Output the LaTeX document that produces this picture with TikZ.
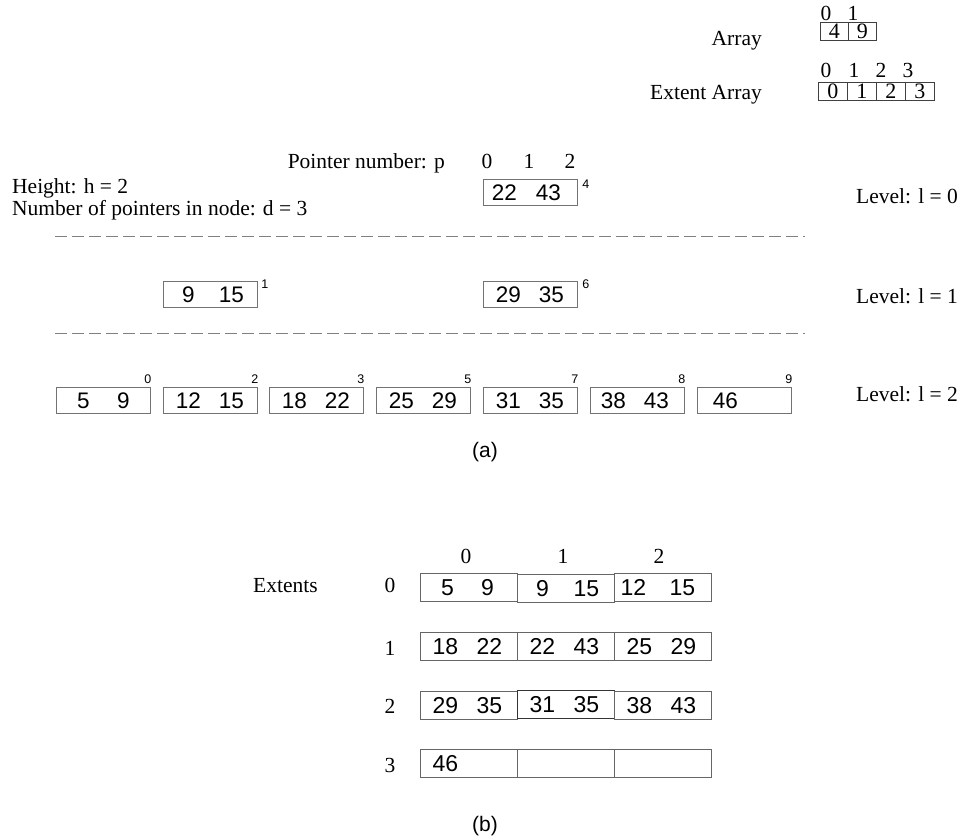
\documentclass[tikz,border=0pt]{standalone}
\usepackage{fontspec}
\setmainfont{Liberation Serif}
\newfontfamily\hv{Liberation Sans}
\usetikzlibrary{calc}
\newcommand\tn[2]{\hbox to 94pt{\hskip25pt\makebox[0pt]{#1}\hskip43pt\makebox[0pt]{#2}\hss}}
\newcommand\tnb[2]{\hbox to 97pt{\hskip25pt\makebox[0pt]{#1}\hskip44pt\makebox[0pt]{#2}\hss}}
\begin{document}
\begin{tikzpicture}[x=1pt,y=-1pt,
  serif/.style={font=\fontsize{21.5}{26}\selectfont, inner sep=0pt},
  sans/.style={font=\hv\fontsize{21}{25}\selectfont, inner sep=0pt},
  sup/.style={font=\hv\fontsize{12.5}{14}\selectfont, inner sep=0pt},
  nbox/.style={draw=black!55, line width=0.9pt, minimum width=94pt, minimum height=26pt,
    inner sep=0pt, anchor=north west, font=\hv\fontsize{22.5}{26}\selectfont},
  cellb/.style={draw=black!60, line width=0.9pt, minimum width=97pt, minimum height=28pt,
    inner sep=0pt, anchor=north west, font=\hv\fontsize{23}{27}\selectfont},
  acell/.style={draw=black!75, line width=0.8pt, minimum height=18pt,
    inner sep=0pt, anchor=north west, font=\fontsize{22}{26}\selectfont},
  dline/.style={draw=black!50, line width=0.9pt, dash pattern=on 12pt off 5pt},
]
\useasboundingbox (0,0) rectangle (965,839);

% ---------- top right arrays ----------
\node[serif, anchor=base east] (arrlab) at (762,45) {Array};
\node[serif, anchor=base] (ah0) at (826,20) {0};
\node[serif, anchor=base] (ah1) at (853,20) {1};
\node[acell, minimum width=28pt] (ac0) at (820,22) {4};
\node[acell, minimum width=28pt] (ac1) at (848,22) {9};

\node[serif, anchor=base east] (extlab) at (762,99) {Extent Array};
\node[serif, anchor=base] (eh0) at (826,77) {0};
\node[serif, anchor=base] (eh1) at (854,77) {1};
\node[serif, anchor=base] (eh2) at (881,77) {2};
\node[serif, anchor=base] (eh3) at (908,77) {3};
\node[acell, minimum width=29pt] (ec0) at (818,82) {0};
\node[acell, minimum width=29pt] (ec1) at (847,82) {1};
\node[acell, minimum width=29pt] (ec2) at (876,82) {2};
\node[acell, minimum width=29pt] (ec3) at (905,82) {3};

% ---------- (a) ----------
\node[serif, anchor=base east] (pnum) at (445,168) {Pointer number: p};
\node[serif, anchor=base] (p0) at (487,168) {0};
\node[serif, anchor=base] (p1) at (529,168) {1};
\node[serif, anchor=base] (p2) at (570,168) {2};
\node[serif, anchor=base west] (hgt) at (12,193) {Height: h = 2};
\node[serif, anchor=base west] (npt) at (12,215.5) {Number of pointers in node: d = 3};

\node[serif, anchor=base west] (lv0) at (856,203.5) {Level: l = 0};
\node[serif, anchor=base west] (lv1) at (856,303) {Level: l = 1};
\node[serif, anchor=base west] (lv2) at (856,401.5) {Level: l = 2};

% level 0
\node[nbox] (n4) at (483,179) {\hbox to 94pt{\hskip21pt\makebox[0pt]{22}\hskip44pt\makebox[0pt]{43}\hss}};
\node[sup] (s4) at ($(n4.north east)+(8,5)$) {4};

\coordinate (d0a) at (55,236);
\coordinate (d0b) at (805,236);
\draw[dline] (d0a) -- (d0b);

% level 1
\node[nbox] (n1) at (163,281) {\tn{9}{15}};
\node[sup] (s1) at ($(n1.north east)+(7,3)$) {1};
\node[nbox] (n6) at (483,281) {\tn{29}{35}};
\node[sup] (s6) at ($(n6.north east)+(8,3)$) {6};

\coordinate (d1a) at (55,333);
\coordinate (d1b) at (805,333);
\draw[dline] (d1a) -- (d1b);

% level 2
\node[nbox] (n0) at (56,387) {\hbox to 94pt{\hskip27pt\makebox[0pt]{5}\hskip40pt\makebox[0pt]{9}\hss}};
\node[nbox] (n2) at (163,387) {\tn{12}{15}};
\node[nbox] (n3) at (269,387) {\tn{18}{22}};
\node[nbox] (n5) at (376,387) {\tn{25}{29}};
\node[nbox] (n7) at (483,387) {\tn{31}{35}};
\node[nbox] (n8) at (590,387) {\hbox to 94pt{\hskip23pt\makebox[0pt]{38}\hskip43pt\makebox[0pt]{43}\hss}};
\node[nbox] (n9) at (697,387) {\hbox to 94pt{\hskip28pt\makebox[0pt]{46}\hss}};
\foreach \n/\t in {n0/0,n2/2,n3/3,n5/5,n7/7,n8/8,n9/9}
  \node[sup] (s\t) at ($(\n.north east)+(-3,-8)$) {\t};

\node[sans] (capa) at (485,452) {(a)};

% ---------- (b) ----------
\node[serif, anchor=base] (bh0) at (466,563) {0};
\node[serif, anchor=base] (bh1) at (563,563) {1};
\node[serif, anchor=base] (bh2) at (659,563) {2};
\node[serif, anchor=base west] (extents) at (253,592) {Extents};
\node[serif, anchor=base] (r0) at (390,592) {0};
\node[serif, anchor=base] (r1) at (390,655) {1};
\node[serif, anchor=base] (r2) at (390,713) {2};
\node[serif, anchor=base] (r3) at (390,772) {3};

\node[cellb] (c00) at (420,573) {\hbox to 97pt{\hskip27pt\makebox[0pt]{5}\hskip40pt\makebox[0pt]{9}\hss}};
\node[cellb] (c01) at (517,574) {\tnb{9}{15}};
\node[cellb] (c02) at (614,573) {\hbox to 97pt{\hskip19pt\makebox[0pt]{12}\hskip49pt\makebox[0pt]{15}\hss}};

\node[cellb] (c10) at (420,632) {\tnb{18}{22}};
\node[cellb] (c11) at (517,632) {\tnb{22}{43}};
\node[cellb] (c12) at (614,632) {\tnb{25}{29}};

\node[cellb] (c20) at (420,691) {\tnb{29}{35}};
\node[cellb, draw=black!80] (c21) at (517,690) {\tnb{31}{35}};
\node[cellb] (c22) at (614,691) {\tnb{38}{43}};

\node[cellb] (c30) at (420,749) {\hbox to 97pt{\hskip25pt\makebox[0pt]{46}\hss}};
\node[cellb] (c31) at (517,749) {\hbox to 97pt{}};
\node[cellb] (c32) at (614,749) {\hbox to 97pt{}};

\node[sans] (capb) at (485,826) {(b)};
\end{tikzpicture}
\end{document}
